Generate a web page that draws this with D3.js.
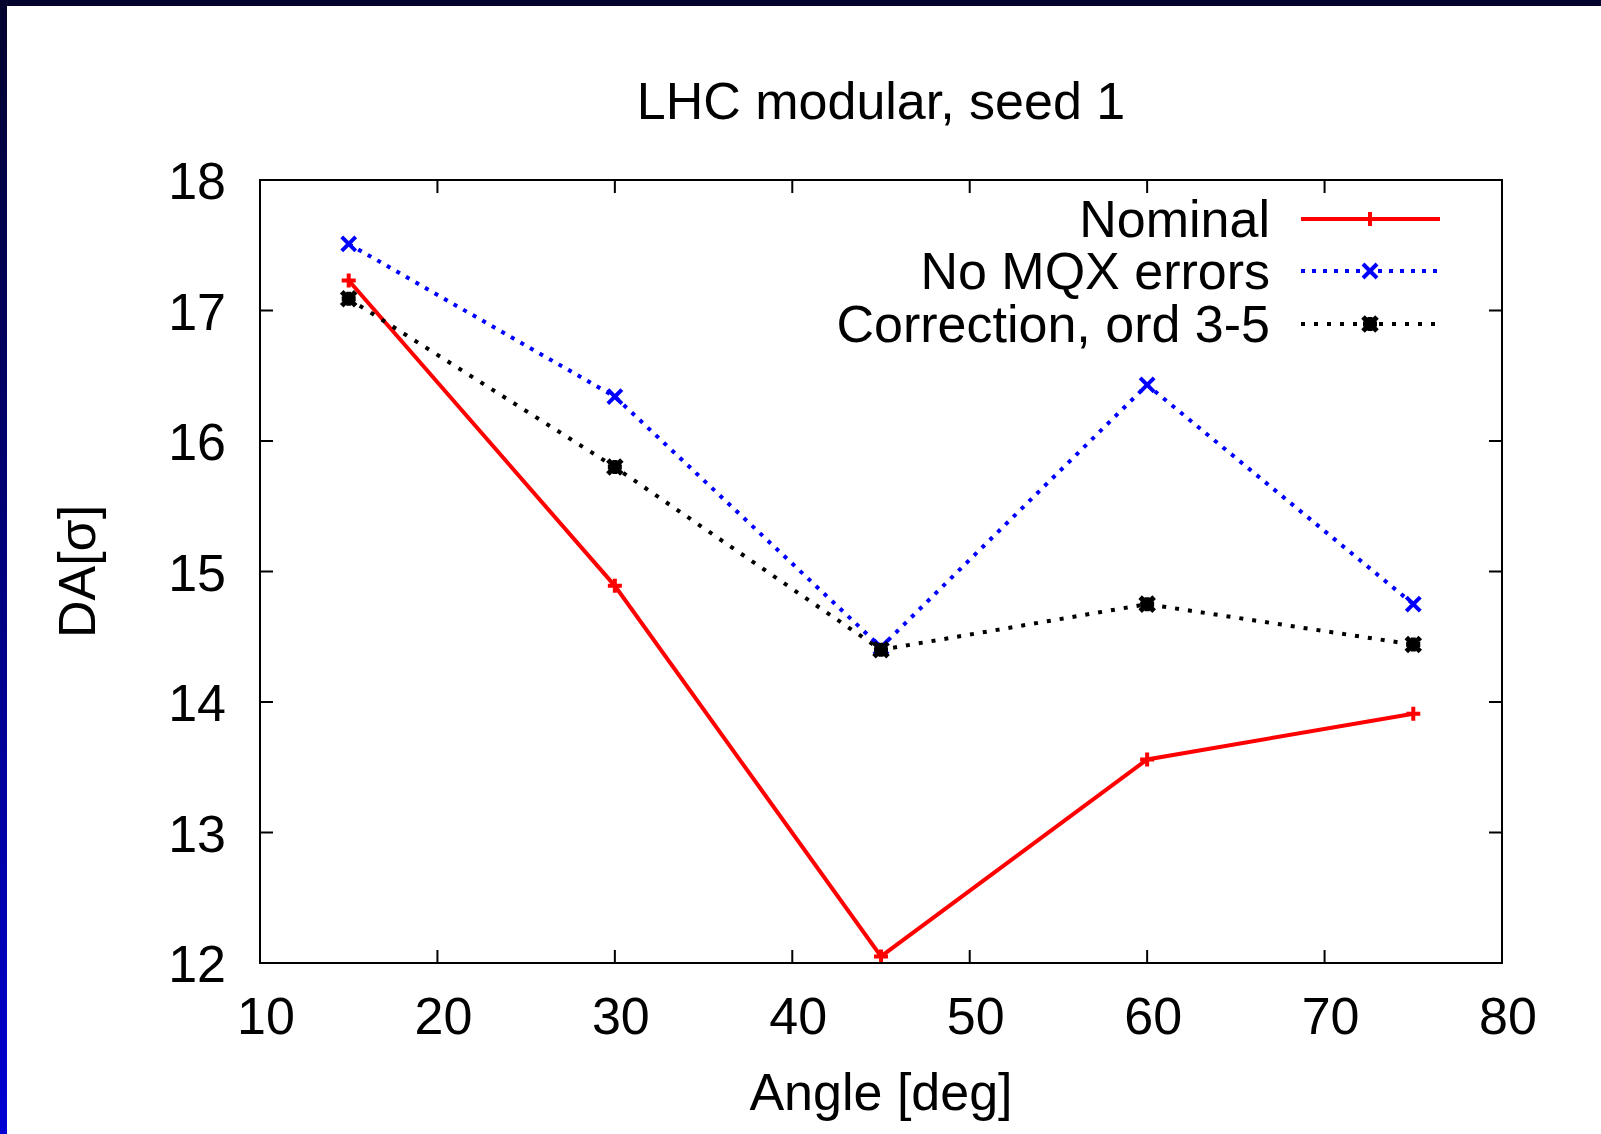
<!DOCTYPE html>
<html>
<head>
<meta charset="utf-8">
<script src="https://cdn.jsdelivr.net/npm/d3@7"></script>
<style>
  body { margin: 0; background: #fff; }
  svg { display: block; }
</style>
</head>
<body>
<script>
// data
var angles = [15, 30, 45, 60, 75];
var nominal = [17.23, 14.89, 12.05, 13.56, 13.91];
var noMQX = [17.51, 16.34, 14.42, 16.43, 14.75];
var correction = [17.09, 15.80, 14.40, 14.75, 14.44];
var seriesNames = ["Nominal", "No MQX errors", "Correction, ord 3-5"];
var xTicks = [10, 20, 30, 40, 50, 60, 70, 80];
var yTicks = [12, 13, 14, 15, 16, 17, 18];

var width = 1601, height = 1134;
var margin = {left: 260, top: 180, right: 99, bottom: 171};
var font = "'Liberation Sans', Arial, sans-serif";
var fs = 52;

var svg = d3.select("body").append("svg")
    .attr("width", width)
    .attr("height", height);

// slide frame: dark top band and gradient left band
var defs = svg.append("defs");
var grad = defs.append("linearGradient")
    .attr("id", "leftband")
    .attr("x1", 0).attr("y1", 0).attr("x2", 0).attr("y2", 1);
grad.append("stop").attr("offset", "0%").attr("stop-color", "#03032e");
grad.append("stop").attr("offset", "50%").attr("stop-color", "#00007e");
grad.append("stop").attr("offset", "100%").attr("stop-color", "#0000d4");

svg.append("rect").attr("x", 0).attr("y", 0).attr("width", 7).attr("height", height)
    .attr("fill", "url(#leftband)");
svg.append("rect").attr("x", 0).attr("y", 0).attr("width", width).attr("height", 6)
    .attr("fill", "#03032e");

var x = d3.scaleLinear().domain([10, 80]).range([margin.left, width - margin.right]);
var y = d3.scaleLinear().domain([12, 18]).range([height - margin.bottom, margin.top]);

var g = svg.append("g");
var tickLen = 13;

// tick marks on all four sides
xTicks.slice(1, -1).forEach(function(t) {
  g.append("line").attr("x1", x(t)).attr("x2", x(t))
    .attr("y1", y(12)).attr("y2", y(12) - tickLen)
    .attr("stroke", "#000").attr("stroke-width", 2);
  g.append("line").attr("x1", x(t)).attr("x2", x(t))
    .attr("y1", y(18)).attr("y2", y(18) + tickLen)
    .attr("stroke", "#000").attr("stroke-width", 2);
});
yTicks.slice(1, -1).forEach(function(t) {
  g.append("line").attr("x1", x(10)).attr("x2", x(10) + tickLen)
    .attr("y1", y(t)).attr("y2", y(t))
    .attr("stroke", "#000").attr("stroke-width", 2);
  g.append("line").attr("x1", x(80)).attr("x2", x(80) - tickLen)
    .attr("y1", y(t)).attr("y2", y(t))
    .attr("stroke", "#000").attr("stroke-width", 2);
});

// tick labels
g.selectAll(".xl").data(xTicks).enter().append("text")
    .attr("x", function(d) { return x(d) + 6; })
    .attr("y", y(12) + 71)
    .attr("text-anchor", "middle")
    .attr("font-family", font).attr("font-size", fs)
    .text(function(d) { return d; });

g.selectAll(".yl").data(yTicks).enter().append("text")
    .attr("x", x(10) - 34)
    .attr("y", function(d) { return y(d) + 19; })
    .attr("text-anchor", "end")
    .attr("font-family", font).attr("font-size", fs)
    .text(function(d) { return d; });

// title and axis labels
svg.append("text")
    .attr("x", (x(10) + x(80)) / 2).attr("y", 119)
    .attr("text-anchor", "middle")
    .attr("font-family", font).attr("font-size", fs)
    .text("LHC modular, seed 1");

svg.append("text")
    .attr("x", (x(10) + x(80)) / 2).attr("y", 1110)
    .attr("text-anchor", "middle")
    .attr("font-family", font).attr("font-size", fs)
    .text("Angle [deg]");

svg.append("text")
    .attr("transform", "translate(95," + ((y(12) + y(18)) / 2) + ") rotate(-90)")
    .attr("text-anchor", "middle")
    .attr("font-family", font).attr("font-size", fs)
    .text("DA[σ]");

// series
var series = [
  {name: seriesNames[0], values: nominal, color: "#ff0000", dash: null, width: 4, marker: "plus"},
  {name: seriesNames[1], values: noMQX, color: "#0000ff", dash: "4,7", width: 4, marker: "cross"},
  {name: seriesNames[2], values: correction, color: "#000000", dash: "4,9", width: 4, marker: "star"}
];

var line = d3.line()
    .x(function(d) { return x(d[0]); })
    .y(function(d) { return y(d[1]); });

function drawMarker(sel, type, cx, cy, color) {
  var s = 7;
  var p = "";
  if (type === "plus" || type === "star") {
    p += "M" + (cx - s) + "," + cy + "H" + (cx + s) + "M" + cx + "," + (cy - s) + "V" + (cy + s);
  }
  if (type === "cross" || type === "star") {
    p += "M" + (cx - s) + "," + (cy - s) + "L" + (cx + s) + "," + (cy + s)
       + "M" + (cx - s) + "," + (cy + s) + "L" + (cx + s) + "," + (cy - s);
  }
  sel.append("path").attr("d", p)
    .attr("stroke", color).attr("stroke-width", type === "star" ? 5 : 4)
    .attr("fill", "none");
  if (type === "star") {
    sel.append("rect").attr("x", cx - 5).attr("y", cy - 5)
      .attr("width", 10).attr("height", 10).attr("fill", color);
  }
}

series.forEach(function(s) {
  var pts = angles.map(function(a, i) { return [a, s.values[i]]; });
  g.append("path").datum(pts)
    .attr("d", line)
    .attr("fill", "none")
    .attr("stroke", s.color)
    .attr("stroke-width", s.width)
    .attr("stroke-dasharray", s.dash);
  pts.forEach(function(p) {
    drawMarker(g, s.marker, x(p[0]), y(p[1]), s.color);
  });
});

// legend
var legY = [219, 271, 324];
series.forEach(function(s, i) {
  g.append("text")
    .attr("x", 1270).attr("y", legY[i] + 18)
    .attr("text-anchor", "end")
    .attr("font-family", font).attr("font-size", fs)
    .text(s.name);
  g.append("line")
    .attr("x1", 1301).attr("x2", 1440)
    .attr("y1", legY[i]).attr("y2", legY[i])
    .attr("stroke", s.color).attr("stroke-width", s.width)
    .attr("stroke-dasharray", s.dash);
  drawMarker(g, s.marker, 1370, legY[i], s.color);
});

// plot border
g.append("rect")
    .attr("x", x(10)).attr("y", y(18))
    .attr("width", x(80) - x(10)).attr("height", y(12) - y(18))
    .attr("fill", "none").attr("stroke", "#000").attr("stroke-width", 2);
</script>
</body>
</html>
